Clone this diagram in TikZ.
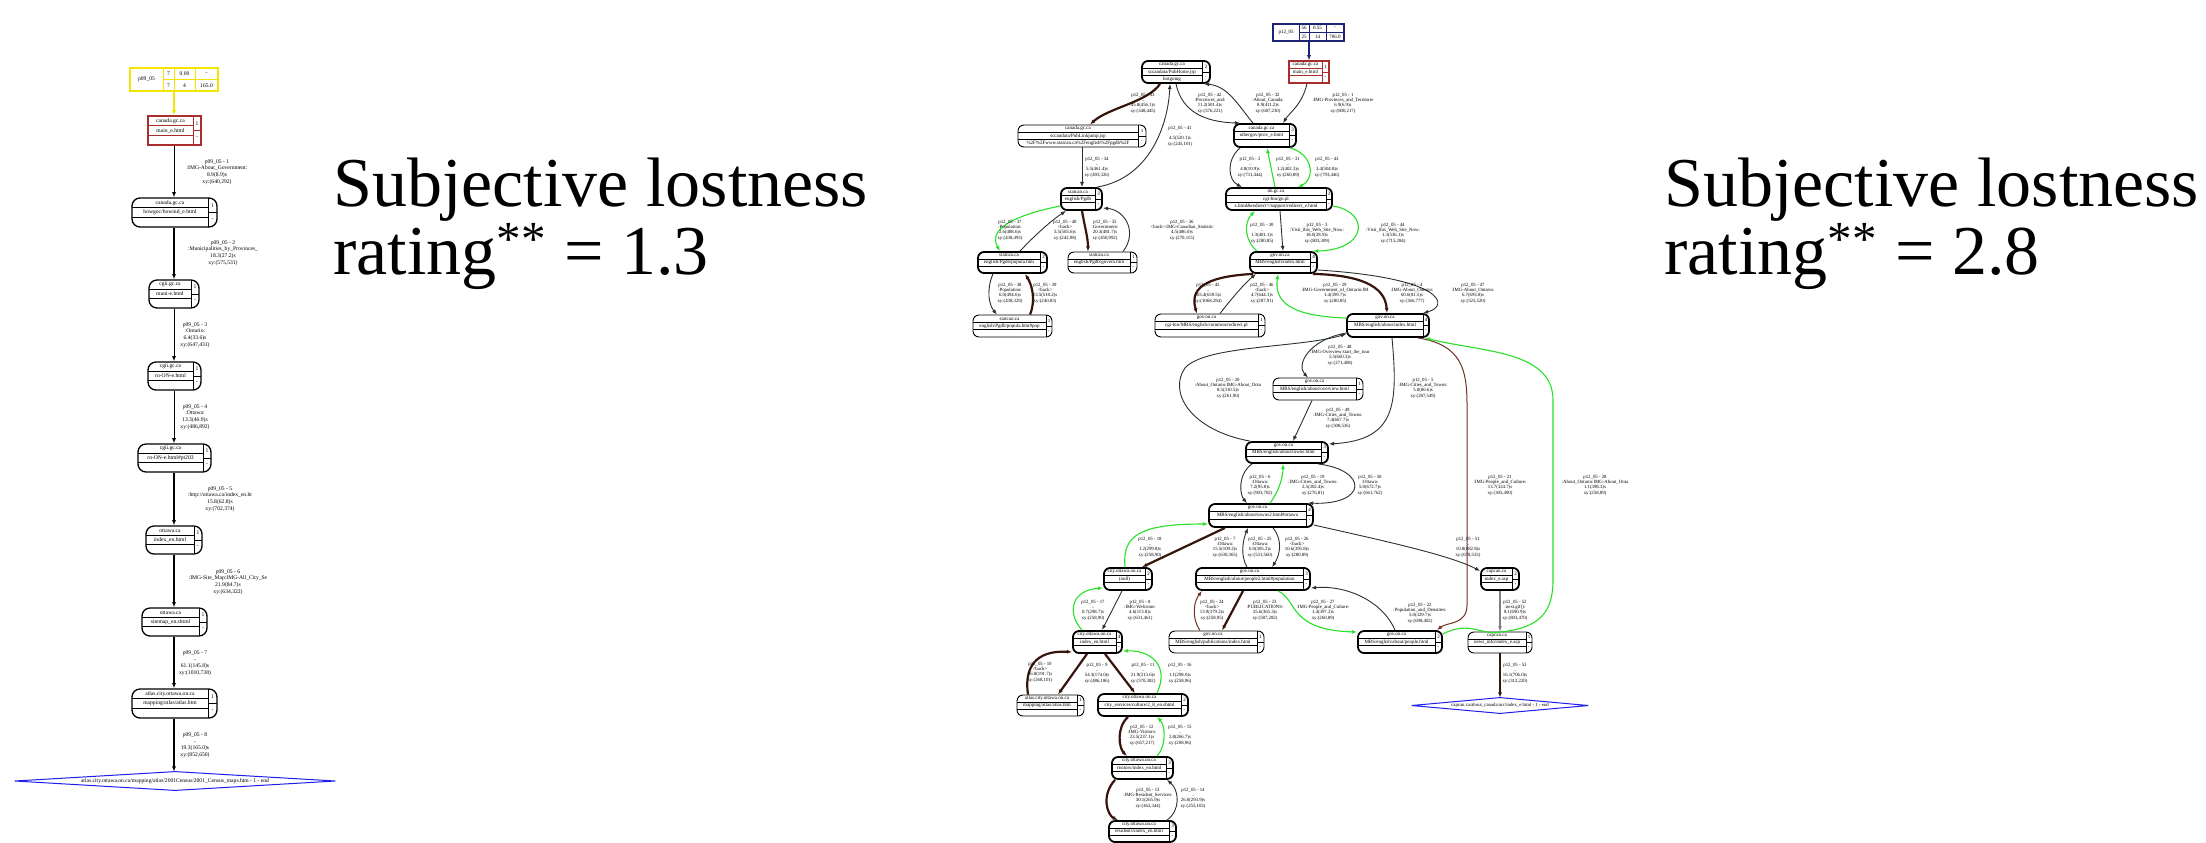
\documentclass[tikz,border=0pt]{standalone}
\usepackage{fontspec}
\setmainfont{Liberation Serif}
\usetikzlibrary{fit,arrows.meta,calc}
\definecolor{cyel}{RGB}{245,228,0}
\definecolor{cred}{RGB}{170,45,45}
\definecolor{cnavy}{RGB}{30,35,120}
\definecolor{cblue}{RGB}{30,30,235}
\definecolor{cgreen}{RGB}{40,225,40}
\definecolor{cbrown}{RGB}{55,20,12}
\definecolor{cbrownthin}{RGB}{110,50,40}
\definecolor{cdark}{RGB}{40,52,40}
\newcommand\recT[7]{%
  \node[rt] at ({(#1+#4)/2},{#2+(#3-#2)/6}) {#5};
  \node[rt] at ({(#1+#4)/2},{(#2+#3)/2}) {#6};
  \node[rt] at ({(#1+#4)/2},{#3-(#3-#2)/6}) {#7};}
\newcommand\rec[9]{%
  \node[fit={(#3,#4) (#5,#6)}, inner sep=0pt, #1] (#2) {};
  \draw[recline] (#3,{#4+(#6-#4)/3}) -- (#7,{#4+(#6-#4)/3})
                 (#3,{#4+2*(#6-#4)/3}) -- (#7,{#4+2*(#6-#4)/3})
                 (#7,#4) -- (#7,#6)
                 (#7,{(#4+#6)/2}) -- (#5,{(#4+#6)/2});
  \recT{#3}{#4}{#6}{#7}#8
  \node[rt] at ({(#7+#5)/2},{#4+(#6-#4)/4}) {#9};
  \node[rt] at ({(#7+#5)/2},{#6-(#6-#4)/4}) {-};}
\tikzset{
  rt/.style={inner sep=0pt, font=\fontsize{2.5}{3}\selectfont},
  recline/.style={line width=.4pt},
  recthin/.style={draw, line width=.45pt, rounded corners=3pt},
  recthick/.style={draw, line width=.9pt, rounded corners=3pt},
  recstart/.style={draw=cred, line width=.6pt},
  lab/.style={align=center, inner sep=0pt, font=\fontsize{2.4}{2.65}\selectfont},
  tip/.style={-{Latex[length=2.6pt,width=2pt]}},
  e/.style={tip, draw=cdark, line width=.45pt},
  eth/.style={tip, draw=cbrown, line width=1.1pt},
  ebt/.style={tip, draw=cbrownthin, line width=.5pt},
  eg/.style={tip, draw=cgreen, line width=.55pt},
  egray/.style={tip, draw=gray, line width=.6pt},
  big/.style={anchor=base west, inner sep=0pt, align=left, font=\fontsize{35}{31.5}\selectfont},
}
\begin{document}
\begin{tikzpicture}[x=0.5pt,y=-0.5pt]
\fill[white] (0,0) rectangle (2206,842);
\useasboundingbox (0,0) rectangle (2206,842);

% ---------------- titles (base anchor = baseline of the last line)
\node[big] (ta) at (333,274) {Subjective lostness\\rating\textsuperscript{**} = 1.3};
\node[big] (tb) at (1664,274) {Subjective lostness\\rating\textsuperscript{**} = 2.8};

% ---------------- left graph
\begin{scope}[rt/.style={inner sep=0pt, font=\fontsize{2.8}{3.3}\selectfont},
  lab/.style={align=center, inner sep=0pt, font=\fontsize{2.8}{3.35}\selectfont},
  recthin/.style={draw, line width=.65pt, rounded corners=4pt},
  eL/.style={tip, draw=black, line width=.5pt},
  eLth/.style={tip, draw=black, line width=1.1pt}]
\node[fit={(130,68) (218,91)}, inner sep=0pt, draw=cyel, line width=.7pt] (L0) {};
\draw[cyel, line width=.5pt] (163,68) -- (163,91) (174,68) -- (174,91) (195,68) -- (195,91) (163,79.5) -- (218,79.5);
\node[rt] at (146.5,79.5) {p09\_05};
\node[rt] at (168.5,73.8) {7}; \node[rt] at (168.5,85.3) {7};
\node[rt] at (184.5,73.8) {0.00}; \node[rt] at (184.5,85.3) {4};
\node[rt] at (206.5,73.8) {-}; \node[rt] at (206.5,85.3) {165.0};
\begin{scope}[recline/.style={draw=cred, line width=.5pt}]
\rec{recstart}{L1}{148}{116}{201}{145}{193}{{canada.gc.ca}{main\_e.html}{}}{1}
\end{scope}
\rec{recthin}{L2}{132}{198}{217}{227}{208}{{canada.gc.ca}{howgoc/howind\_e.html}{}}{1}
\rec{recthin}{L3}{149}{280}{199}{308}{191}{{cgii.gc.ca}{muni-e.html}{}}{1}
\rec{recthin}{L4}{148}{362}{201}{390}{193}{{cgii.gc.ca}{rn-ON-e.html}{}}{1}
\rec{recthin}{L5}{138}{444}{211}{472}{203}{{cgii.gc.ca}{rn-ON-e.html\#pt203}{}}{1}
\rec{recthin}{L6}{146}{526}{202}{554}{194}{{ottawa.ca}{index\_en.html}{}}{1}
\rec{recthin}{L7}{142}{608}{207}{636}{199}{{ottawa.ca}{sitemap\_en.shtml}{}}{1}
\rec{recthin}{L8}{132}{689}{217}{718}{208}{{atlas.city.ottawa.on.ca}{mapping/atlas/atlas.htm}{}}{1}
\node[inner sep=0pt, minimum width=160pt, minimum height=9pt, font=\fontsize{2.8}{3.3}\selectfont] (L9) at (175,781) {atlas.city.ottawa.on.ca/mapping/atlas/2001Census/2001\_Census\_maps.htm - 1 - end};
\draw[cblue, line width=.5pt] (L9.west) -- (L9.north) -- (L9.east) -- (L9.south) -- cycle;

\draw[tip, draw=cyel, line width=.6pt] (L0.south) -- (L1.north -| L0.south);
\draw[eL] (L1.south -| 174,0) -- (L2.north -| 174,0);
\draw[eLth] (L2.south -| 174,0) -- (L3.north -| 174,0);
\draw[eL] (L3.south -| 174,0) -- (L4.north -| 174,0);
\draw[eL] (L4.south -| 174,0) -- (L5.north -| 174,0);
\draw[eLth] (L5.south -| 174,0) -- (L6.north -| 174,0);
\draw[eLth] (L6.south -| 174,0) -- (L7.north -| 174,0);
\draw[eLth] (L7.south -| 174,0) -- (L8.north -| 174,0);
\draw[eLth] (L8.south -| 174,0) -- (L9.north -| 174,0);

\node[lab] (la1) at (217,172) {p09\_05 - 1\\:IMG-About\_Government:\\8.9(8.9)s\\xy:(640,292)};
\node[lab] (la2) at (223,253) {p09\_05 - 2\\:Municipalities\_by\_Provinces\_\\18.3(27.2)s\\xy:(575,531)};
\node[lab] (la3) at (195,335) {p09\_05 - 3\\:Ontario:\\6.4(33.6)s\\xy:(647,431)};
\node[lab] (la4) at (195,417) {p09\_05 - 4\\:Ottawa:\\13.3(46.9)s\\xy:(486,892)};
\node[lab] (la5) at (220,499) {p09\_05 - 5\\:http://ottawa.ca/index\_en.ht\\15.8(62.8)s\\xy:(702,374)};
\node[lab] (la6) at (228,582) {p09\_05 - 6\\:IMG-Site\_Map:IMG-All\_City\_Se\\21.9(84.7)s\\xy:(634,322)};
\node[lab] (la7) at (195,663) {p09\_05 - 7\\..\\61.1(145.8)s\\xy:(1010,738)};
\node[lab] (la8) at (195,745) {p09\_05 - 8\\..\\19.3(165.0)s\\xy:(852,650)};
\end{scope}

% ---------------- right graph
\node[fit={(1273,24) (1344,41)}, inner sep=0pt, draw=cnavy, line width=.7pt] (R0) {};
\draw[cnavy, line width=.5pt] (1299,24) -- (1299,41) (1309,24) -- (1309,41) (1326,24) -- (1326,41) (1299,32.5) -- (1344,32.5);
\node[rt] at (1286,32.5) {p12\_05};
\node[rt] at (1304,28.3) {56}; \node[rt] at (1304,36.8) {25};
\node[rt] at (1317.5,28.3) {0.55}; \node[rt] at (1317.5,36.8) {14};
\node[rt] at (1335,28.3) {-}; \node[rt] at (1335,36.8) {706.0};
\begin{scope}[recline/.style={draw=cred, line width=.45pt}]
\rec{recstart}{R1}{1289}{61}{1329}{83}{1322}{{canada.gc.ca}{main\_e.html}{}}{1}
\end{scope}
\rec{recthick}{pubhome}{1142}{61}{1210}{83}{1202}{{canada.gc.ca}{sccandata/PubHome.jsp}{hotgoing}}{2}
\rec{recthin}{publink}{1018}{125}{1146}{147}{1138}{{canada.gc.ca}{sccandata/PubLinkjump.jsp}{\%2F\%2Fwww.statcan.ca\%2Fenglish\%2Fpgdb\%2F}}{1}
\rec{recthick}{prov}{1234}{124}{1296}{147}{1289}{{canada.gc.ca}{othergov/prov\_e.html}{}}{3}
\rec{recthick}{pgdb}{1061}{188}{1102}{210}{1095}{{statcan.ca}{english/Pgdb}{}}{3}
\rec{recthick}{dn}{1226}{188}{1332}{210}{1326}{{dn.gc.ca}{cgi-bin/go.pl}{x.html\&redirect=/support/redirect\_e.html}}{3}
\rec{recthick}{popula}{978}{252}{1047}{273}{1040}{{statcan.ca}{english/Pgdb/popula.htm}{}}{2}
\rec{recthin}{govern}{1068}{252}{1137}{273}{1130}{{statcan.ca}{english/Pgdb/govern.htm}{}}{1}
\rec{recthin}{poppop}{973}{315}{1052}{337}{1046}{{statcan.ca}{english/Pgdb/popula.htm\#pop}{}}{1}
\rec{recthick}{index}{1250}{252}{1317}{273}{1310}{{gov.on.ca}{MBS/english/index.html}{}}{4}
\rec{recthin}{redir}{1155}{314}{1265}{337}{1258}{{gov.on.ca}{cgi-bin/MBS/english/common/redirect.pl}{}}{1}
\rec{recthick}{about}{1347}{314}{1429}{337}{1423}{{gov.on.ca}{MBS/english/about/index.html}{}}{4}
\rec{recthin}{overview}{1273}{378}{1363}{400}{1356}{{gov.on.ca}{MBS/english/about/overview.html}{}}{1}
\rec{recthick}{towns}{1246}{442}{1328}{463}{1321}{{gov.on.ca}{MBS/english/about/towns.html}{}}{3}
\rec{recthick}{towns2}{1209}{504}{1313}{527}{1306}{{gov.on.ca}{MBS/english/about/towns2.html\#ottawa}{}}{4}
\rec{recthick}{null}{1104}{568}{1152}{590}{1145}{{city.ottawa.on.ca}{(null)}{}}{2}
\rec{recthick}{people2}{1196}{568}{1310}{590}{1303}{{gov.on.ca}{MBS/english/about/people2.html\#population}{}}{3}
\rec{recthick}{capidx}{1481}{568}{1519}{590}{1512}{{capcan.ca}{index\_e.asp}{}}{2}
\rec{recthick}{indexen}{1073}{631}{1122}{653}{1116}{{city.ottawa.on.ca}{index\_en.html}{}}{4}
\rec{recthin}{public}{1169}{631}{1264}{653}{1257}{{gov.on.ca}{MBS/english/publications/index.html}{}}{1}
\rec{recthick}{people}{1358}{631}{1442}{653}{1435}{{gov.on.ca}{MBS/english/about/people.html}{}}{2}
\rec{recthin}{news}{1468}{632}{1532}{653}{1526}{{capcan.ca}{news\_info/index\_e.asp}{}}{1}
\rec{recthin}{atlas}{1017}{695}{1084}{716}{1077}{{atlas.city.ottawa.on.ca}{mapping/atlas/atlas.htm}{}}{1}
\rec{recthick}{citysvc}{1098}{694}{1188}{716}{1181}{{city.ottawa.on.ca}{city\_services/culture/2\_8\_en.shtml}{}}{2}
\rec{recthick}{visitors}{1112}{757}{1173}{779}{1166}{{city.ottawa.on.ca}{visitors/index\_en.html}{}}{3}
\rec{recthick}{residents}{1109}{821}{1176}{842}{1169}{{city.ottawa.on.ca}{residents/index\_en.html}{}}{3}
\node[inner sep=0pt, minimum width=88pt, minimum height=7.5pt, font=\fontsize{2.4}{3}\selectfont] (dia2) at (1500,705.5) {capcan.ca/about\_canada/arc/index\_e.html - 1 - end};
\draw[cblue, line width=.5pt] (dia2.west) -- (dia2.north) -- (dia2.east) -- (dia2.south) -- cycle;

% edges
\draw[tip, draw=cnavy, line width=.6pt] (R0.south -| 1309,0) -- (R1.north -| 1309,0);
\draw[e] (R1.south -| 1307,0) .. controls (1302,105) and (1290,112) .. (prov.north -| 1283,0);
\draw[eth] (pubhome.south -| 1160,0) .. controls (1148,102) and (1108,108) .. (publink.north -| 1090,0);
\draw[e] (publink.south -| 1082,0) -- (pgdb.north -| 1082,0);
\draw[e] (pgdb.north -| 1097,0) .. controls (1150,178) and (1168,125) .. (pubhome.south -| 1170,0);
\draw[e] (pubhome.south -| 1176,0) .. controls (1182,112) and (1205,122) .. (prov.north -| 1240,0);
\draw[e] (prov.north -| 1253,0) .. controls (1238,105) and (1228,86) .. (pubhome.south -| 1204,0);
\draw[e] (prov.south -| 1240,0) .. controls (1226,160) and (1228,180) .. (dn.north -| 1242,0);
\draw[eg] (dn.north -| 1275,0) -- (prov.south -| 1267,0);
\draw[eg] (prov.south -| 1290,0) .. controls (1315,155) and (1314,180) .. (dn.north -| 1298,0);
\draw[eg] (pgdb.west |- 0,206) .. controls (1030,212) and (985,225) .. (popula.north -| 1000,0);
\draw[e] (popula.north -| 1020,0) .. controls (1035,235) and (1052,220) .. (pgdb.south -| 1066,0);
\draw[eth] (pgdb.south -| 1082,0) .. controls (1085,228) and (1088,238) .. (govern.north -| 1088,0);
\draw[e] (govern.north -| 1123,0) .. controls (1138,232) and (1125,210) .. (pgdb.east |- 0,208);
\draw[e] (popula.south -| 993,0) .. controls (986,290) and (989,305) .. (poppop.north -| 997,0);
\draw[eth] (poppop.north -| 1030,0) .. controls (1036,300) and (1032,285) .. (popula.south -| 1025,0);
\draw[eg] (index.north -| 1257,0) .. controls (1244,240) and (1244,222) .. (dn.south -| 1255,0);
\draw[e] (dn.south -| 1280,0) -- (index.north -| 1283,0);
\draw[eg] (dn.east |- 0,206) .. controls (1370,212) and (1368,250) .. (index.north -| 1313,0);
\draw[eth] (index.south -| 1253,0) .. controls (1215,276) and (1188,284) .. (redir.north -| 1197,0);
\draw[e] (redir.north -| 1220,0) .. controls (1232,298) and (1245,283) .. (index.south -| 1256,0);
\draw[eg] (about.west |- 0,318) .. controls (1290,316) and (1274,302) .. (index.south -| 1278,0);
\draw[eth] (index.south -| 1313,0) .. controls (1358,275) and (1385,285) .. (about.north -| 1387,0);
\draw[e] (index.east |- 0,270) .. controls (1445,278) and (1450,306) .. (about.north -| 1423,0);
\draw[e] (about.west |- 0,333) .. controls (1308,340) and (1296,365) .. (overview.north -| 1308,0);
\draw[e] (overview.south -| 1312,0) -- (towns.north -| 1293,0);
\draw[e] (towns.north -| 1250,0) .. controls (1190,430) and (1168,392) .. (1185,368) .. controls (1205,345) and (1300,348) .. (about.west |- 0,334);
\draw[e] (about.south -| 1392,0) .. controls (1398,405) and (1396,440) .. (towns.east |- 0,444);
\draw[e] (towns.south -| 1252,0) .. controls (1237,475) and (1240,495) .. (towns2.north -| 1247,0);
\draw[eg] (towns2.north -| 1270,0) .. controls (1280,490) and (1283,475) .. (towns.south -| 1283,0);
\draw[e] (towns.south -| 1318,0) .. controls (1368,470) and (1368,505) .. (towns2.north -| 1308,0);
\draw[e] (towns2.east |- 0,525) .. controls (1380,540) and (1450,555) .. (capidx.west |- 0,571);
\draw[egray] (capidx.south) -- (news.north);
\draw[eth] (news.south) -- (dia2.north);
\draw[ebt] (about.south -| 1418,0) .. controls (1462,345) and (1467,370) .. (1467,405) -- (1467,605) .. controls (1467,625) and (1447,622) .. (people.north -| 1437,0);
\draw[eg] (people.east |- 0,634) .. controls (1470,620) and (1482,636) .. (1500,632) .. controls (1540,628) and (1553,612) .. (1553,580) -- (1553,400) .. controls (1553,350) and (1480,352) .. (about.south -| 1425,0);
\draw[e] (people.north -| 1395,0) .. controls (1382,600) and (1345,585) .. (people2.east |- 0,588);
\draw[eth] (towns2.south -| 1225,0) -- (null.north -| 1142,0);
\draw[eg] (null.north -| 1125,0) .. controls (1122,535) and (1140,524) .. (towns2.west |- 0,524);
\draw[e] (people2.north -| 1247,0) .. controls (1240,555) and (1243,540) .. (towns2.south -| 1248,0);
\draw[e] (towns2.south -| 1273,0) .. controls (1283,540) and (1280,555) .. (people2.north -| 1272,0);
\draw[e] (null.south -| 1122,0) -- (indexen.north -| 1102,0);
\draw[eg] (indexen.north -| 1082,0) .. controls (1066,612) and (1072,590) .. (null.west |- 0,588);
\draw[ebt] (public.north -| 1200,0) .. controls (1190,615) and (1195,600) .. (people2.south -| 1202,0);
\draw[eth] (people2.south -| 1243,0) -- (public.north -| 1222,0);
\draw[eg] (people2.south -| 1278,0) .. controls (1298,600) and (1288,630) .. (people.west |- 0,632);
\draw[eth] (indexen.south -| 1087,0) -- (atlas.north -| 1058,0);
\draw[eth] (atlas.north -| 1028,0) .. controls (1024,668) and (1035,650) .. (indexen.west |- 0,652);
\draw[eth] (indexen.south -| 1105,0) -- (citysvc.north -| 1135,0);
\draw[eg] (citysvc.north -| 1157,0) .. controls (1170,665) and (1150,650) .. (indexen.east |- 0,651);
\draw[eth] (citysvc.south -| 1128,0) .. controls (1116,728) and (1119,748) .. (visitors.north -| 1127,0);
\draw[eg] (visitors.north -| 1157,0) .. controls (1167,745) and (1165,725) .. (citysvc.south -| 1157,0);
\draw[eth] (visitors.south -| 1115,0) .. controls (1101,795) and (1107,815) .. (residents.north -| 1118,0);
\draw[e] (residents.north -| 1167,0) .. controls (1181,810) and (1179,790) .. (visitors.south -| 1167,0);

% labels
\node[lab] (l1) at (1343,103) {p12\_05 - 1\\:IMG-Provinces\_and\_Territorie\\6.9(6.9)s\\xy:(800,217)};
\node[lab] (l33) at (1143,103) {p12\_05 - 33\\..\\45.8(456.1)s\\xy:(348,445)};
\node[lab] (l34) at (1097,167) {p12\_05 - 34\\..\\5.5(461.4)s\\xy:(493,326)};
\node[lab] (l41) at (1180,136) {p12\_05 - 41\\..\\4.5(520.1)s\\xy:(245,101)};
\node[lab] (l42) at (1210,103) {p12\_05 - 42\\:Provinces\_and:\\11.2(501.4)s\\xy:(576,221)};
\node[lab] (l32) at (1268,103) {p12\_05 - 32\\:About\_Canada:\\8.9(411.2)s\\xy:(687,230)};
\node[lab] (l2) at (1250,167) {p12\_05 - 2\\..\\4.8(10.9)s\\xy:(731,444)};
\node[lab] (l31) at (1288,167) {p12\_05 - 31\\..\\1.2(402.3)s\\xy:(260,89)};
\node[lab] (l43) at (1327,167) {p12\_05 - 43\\..\\3.4(504.8)s\\xy:(793,446)};
\node[lab] (l37) at (1010,230) {p12\_05 - 37\\:Population:\\2.6(488.6)s\\xy:(438,493)};
\node[lab] (l40) at (1065,230) {p12\_05 - 40\\<back>\\5.5(503.6)s\\xy:(242,98)};
\node[lab] (l35) at (1105,230) {p12\_05 - 35\\:Government:\\20.3(481.7)s\\xy:(450,992)};
\node[lab] (l36) at (1182,230) {p12\_05 - 36\\<back>:IMG-Canadian\_Statistic\\4.5(486.0)s\\xy:(270,115)};
\node[lab] (l38) at (1010,293) {p12\_05 - 38\\:Population:\\6.0(494.6)s\\xy:(438,329)};
\node[lab] (l39) at (1045,293) {p12\_05 - 39\\<back>\\13.5(518.2)s\\xy:(240,83)};
\node[lab] (l30) at (1262,233) {p12\_05 - 30\\..\\1.3(401.1)s\\xy:(280,85)};
\node[lab] (l3) at (1317,233) {p12\_05 - 3\\:Visit\_this\_Web\_Site\_Now:\\18.0(28.9)s\\xy:(803,309)};
\node[lab] (l44) at (1393,233) {p12\_05 - 44\\:Visit\_this\_Web\_Site\_Now:\\1.3(536.1)s\\xy:(715,284)};
\node[lab] (l45) at (1208,293) {p12\_05 - 45\\..\\103.4(639.5)s\\xy:(1068,284)};
\node[lab] (l46) at (1262,293) {p12\_05 - 46\\<back>\\4.7(644.1)s\\xy:(287,91)};
\node[lab] (l29) at (1335,293) {p12\_05 - 29\\:IMG-Government\_of\_Ontario:IM\\1.4(399.7)s\\xy:(280,85)};
\node[lab] (l4) at (1412,293) {p12\_05 - 4\\:IMG-About\_Ontario:\\60.6(81.5)s\\xy:(366,777)};
\node[lab] (l47) at (1473,293) {p12\_05 - 47\\:IMG-About\_Ontario:\\6.7(693.8)s\\xy:(525,520)};
\node[lab] (l48) at (1340,355) {p12\_05 - 48\\:IMG-Overview:start\_the\_tour\\5.5(660.3)s\\xy:(271,408)};
\node[lab] (l20) at (1228,388) {p12\_05 - 20\\:About\_Ontario:IMG-About\_Onta\\8.5(310.5)s\\xy:(261,90)};
\node[lab] (l5) at (1423,388) {p12\_05 - 5\\:IMG-Cities\_and\_Towns:\\5.0(86.6)s\\xy:(287,549)};
\node[lab] (l49) at (1338,418) {p12\_05 - 49\\:IMG-Cities\_and\_Towns:\\7.4(667.7)s\\xy:(308,536)};
\node[lab] (l6) at (1260,485) {p12\_05 - 6\\:Ottawa:\\7.2(95.8)s\\xy:(903,702)};
\node[lab] (l19) at (1313,485) {p12\_05 - 19\\:IMG-Cities\_and\_Towns:\\2.5(302.4)s\\xy:(276,81)};
\node[lab] (l50) at (1370,485) {p12\_05 - 50\\:Ottawa:\\5.0(672.7)s\\xy:(661,762)};
\node[lab] (l21) at (1500,485) {p12\_05 - 21\\:IMG-People\_and\_Culture:\\13.7(324.7)s\\xy:(305,490)};
\node[lab] (l28) at (1595,485) {p12\_05 - 28\\:About\_Ontario:IMG-About\_Onta\\1.1(398.3)s\\xy:(258,89)};
\node[lab] (l51) at (1468,547) {p12\_05 - 51\\..\\10.8(682.8)s\\xy:(678,533)};
\node[lab] (l18) at (1150,547) {p12\_05 - 18\\..\\1.2(299.8)s\\xy:(258,90)};
\node[lab] (l7) at (1225,547) {p12\_05 - 7\\:Ottawa:\\15.5(109.2)s\\xy:(630,365)};
\node[lab] (l25) at (1260,547) {p12\_05 - 25\\:Ottawa:\\6.0(305.2)s\\xy:(531,560)};
\node[lab] (l26) at (1297,547) {p12\_05 - 26\\<back>\\10.6(395.8)s\\xy:(280,89)};
\node[lab] (l52) at (1515,610) {p12\_05 - 52\\:next.gif():\\8.1(690.9)s\\xy:(803,470)};
\node[lab] (l22) at (1420,613) {p12\_05 - 22\\:Population\_and\_Densities:\\5.0(329.7)s\\xy:(698,402)};
\node[lab] (l8) at (1140,610) {p12\_05 - 8\\:IMG-Welcome:\\4.6(113.8)s\\xy:(631,461)};
\node[lab] (l17) at (1093,610) {p12\_05 - 17\\..\\0.7(298.7)s\\xy:(258,90)};
\node[lab] (l24) at (1212,610) {p12\_05 - 24\\<back>\\13.9(379.2)s\\xy:(258,95)};
\node[lab] (l23) at (1265,610) {p12\_05 - 23\\:PUBLICATIONS:\\35.6(365.3)s\\xy:(587,282)};
\node[lab] (l27) at (1323,610) {p12\_05 - 27\\:IMG-People\_and\_Culture:\\1.4(397.2)s\\xy:(260,89)};
\node[lab] (l53) at (1515,673) {p12\_05 - 53\\..\\16.1(706.0)s\\xy:(312,220)};
\node[lab] (l9) at (1097,673) {p12\_05 - 9\\..\\54.3(174.0)s\\xy:(486,186)};
\node[lab] (l10) at (1040,672) {p12\_05 - 10\\<back>\\16.8(191.7)s\\xy:(268,101)};
\node[lab] (l11) at (1143,673) {p12\_05 - 11\\..\\21.9(213.6)s\\xy:(570,382)};
\node[lab] (l16) at (1180,673) {p12\_05 - 16\\..\\1.1(298.0)s\\xy:(258,96)};
\node[lab] (l12) at (1142,735) {p12\_05 - 12\\:IMG-Visitors:\\23.5(237.1)s\\xy:(657,217)};
\node[lab] (l15) at (1180,735) {p12\_05 - 15\\..\\2.8(266.7)s\\xy:(208,96)};
\node[lab] (l13) at (1148,798) {p12\_05 - 13\\:IMG-Resident\_Services:\\30.1(265.9)s\\xy:(462,344)};
\node[lab] (l14) at (1193,798) {p12\_05 - 14\\..\\26.0(293.9)s\\xy:(255,103)};
\end{tikzpicture}
\end{document}
